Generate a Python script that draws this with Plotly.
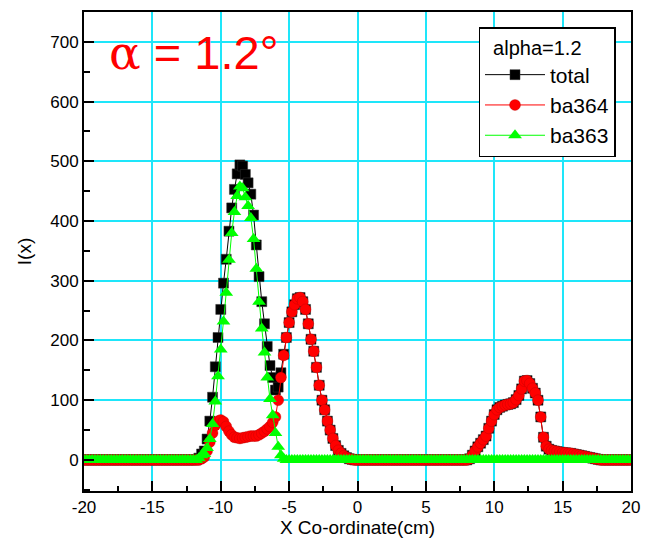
import numpy as np
import plotly.graph_objects as go

# Sampling grid along the detector (cm), 0.2 cm step
X_CM = np.round(np.linspace(-20.0, 20.0, 201), 1)

# Intensity profiles, ten samples per row (row start x noted on the right)
BA363 = [
    0, 0, 0, 0, 0, 0, 0, 0, 0, 0,                       # -20.0
    0, 0, 0, 0, 0, 0, 0, 0, 0, 0,                       # -18.0
    0, 0, 0, 0, 0, 0, 0, 0, 0, 0,                       # -16.0
    0, 0, 0, 0, 0, 0, 0, 0, 0, 0,                       # -14.0
    0, 0, 3, 8, 10, 20, 35, 60, 98, 140,                # -12.0
    185, 232, 280, 335, 380, 415, 442, 458, 455, 440,   # -10.0
    425, 405, 370, 320, 265, 220, 180, 138, 102, 75,    # -8.0
    45, 22, 8, 2, 0, 0, 0, 0, 0, 0,                     # -6.0
    0, 0, 0, 0, 0, 0, 0, 0, 0, 0,                       # -4.0
    0, 0, 0, 0, 0, 0, 0, 0, 0, 0,                       # -2.0
    0, 0, 0, 0, 0, 0, 0, 0, 0, 0,                       # 0.0
    0, 0, 0, 0, 0, 0, 0, 0, 0, 0,                       # 2.0
    0, 0, 0, 0, 0, 0, 0, 0, 0, 0,                       # 4.0
    0, 0, 0, 0, 0, 0, 0, 0, 0, 0,                       # 6.0
    0, 0, 0, 0, 0, 0, 0, 0, 0, 0,                       # 8.0
    0, 0, 0, 0, 0, 0, 0, 0, 0, 0,                       # 10.0
    0, 0, 0, 0, 0, 0, 0, 0, 0, 0,                       # 12.0
    0, 0, 0, 0, 0, 0, 0, 0, 0, 0,                       # 14.0
    0, 0, 0, 0, 0, 0, 0, 0, 0, 0,                       # 16.0
    0, 0, 0, 0, 0, 0, 0, 0, 0, 0,                       # 18.0
    0,                                                  # 20.0
]

BA364 = [
    0, 0, 0, 0, 0, 0, 0, 0, 0, 0,                       # -20.0
    0, 0, 0, 0, 0, 0, 0, 0, 0, 0,                       # -18.0
    0, 0, 0, 0, 0, 0, 0, 0, 0, 0,                       # -16.0
    0, 0, 0, 0, 0, 0, 0, 0, 0, 0,                       # -14.0
    0, 0, 0, 2, 5, 15, 30, 45, 58, 65,                  # -12.0
    67, 64, 56, 48, 42, 38, 37, 36, 37, 38,             # -10.0
    39, 40, 40, 40, 42, 45, 48, 52, 56, 63,             # -8.0
    72, 100, 138, 175, 205, 230, 248, 260, 270, 272,    # -6.0
    265, 252, 228, 202, 182, 155, 125, 100, 84, 65,     # -4.0
    50, 36, 24, 16, 11, 7, 4, 2, 1, 0,                  # -2.0
    0, 0, 0, 0, 0, 0, 0, 0, 0, 0,                       # 0.0
    0, 0, 0, 0, 0, 0, 0, 0, 0, 0,                       # 2.0
    0, 0, 0, 0, 0, 0, 0, 0, 0, 0,                       # 4.0
    0, 0, 0, 0, 0, 0, 0, 0, 0, 0,                       # 6.0
    0, 2, 8, 15, 22, 28, 34, 40, 53, 65,                # 8.0
    76, 84, 88, 90, 92, 93, 94, 96, 101, 108,           # 10.0
    119, 132, 133, 128, 120, 112, 100, 72, 38, 23,      # 12.0
    18, 16, 15, 14, 13, 12, 12, 11, 11, 10,             # 14.0
    9, 8, 7, 6, 5, 4, 3, 2, 1, 0,                       # 16.0
    0, 0, 0, 0, 0, 0, 0, 0, 0, 0,                       # 18.0
    0,                                                  # 20.0
]

TOTAL = [
    0, 0, 0, 0, 0, 0, 0, 0, 0, 0,                       # -20.0
    0, 0, 0, 0, 0, 0, 0, 0, 0, 0,                       # -18.0
    0, 0, 0, 0, 0, 0, 0, 0, 0, 0,                       # -16.0
    0, 0, 0, 0, 0, 0, 0, 0, 0, 0,                       # -14.0
    0, 0, 3, 10, 15, 35, 65, 105, 156, 205,             # -12.0
    252, 296, 336, 383, 422, 453, 479, 494, 492, 478,   # -10.0
    464, 445, 410, 360, 307, 265, 228, 190, 158, 138,   # -8.0
    117, 122, 146, 177, 205, 230, 248, 260, 270, 272,   # -6.0
    265, 252, 228, 202, 182, 155, 125, 100, 84, 65,     # -4.0
    50, 36, 24, 16, 11, 7, 4, 2, 1, 0,                  # -2.0
    0, 0, 0, 0, 0, 0, 0, 0, 0, 0,                       # 0.0
    0, 0, 0, 0, 0, 0, 0, 0, 0, 0,                       # 2.0
    0, 0, 0, 0, 0, 0, 0, 0, 0, 0,                       # 4.0
    0, 0, 0, 0, 0, 0, 0, 0, 0, 0,                       # 6.0
    0, 2, 8, 15, 22, 28, 34, 40, 53, 65,                # 8.0
    76, 84, 88, 90, 92, 93, 94, 96, 101, 108,           # 10.0
    119, 132, 133, 128, 120, 112, 100, 72, 38, 23,      # 12.0
    18, 16, 15, 14, 13, 12, 12, 11, 11, 10,             # 14.0
    9, 8, 7, 6, 5, 4, 3, 2, 1, 0,                       # 16.0
    0, 0, 0, 0, 0, 0, 0, 0, 0, 0,                       # 18.0
    0,                                                  # 20.0
]

X_TICKS = [-20, -15, -10, -5, 0, 5, 10, 15, 20]
X_TICK_TEXT = ["-20", "-15", "-10", "-5", "0", "5", "10", "15", "20"]
Y_TICKS = [0, 100, 200, 300, 400, 500, 600, 700]
Y_TICK_TEXT = ["0", "100", "200", "300", "400", "500", "600", "700"]

FONT = "Arial, Liberation Sans, sans-serif"
GRID = "#1ee6fa"

fig = go.Figure()
fig.add_trace(go.Scatter(
    x=X_CM, y=TOTAL, name="total", mode="lines+markers",
    line=dict(color="black", width=1),
    marker=dict(symbol="square", size=10, color="black",
                line=dict(color="#333333", width=0.5)),
))
fig.add_trace(go.Scatter(
    x=X_CM, y=BA364, name="ba364", mode="lines+markers",
    line=dict(color="red", width=1),
    marker=dict(symbol="circle", size=11, color="red",
                line=dict(color="#aa0000", width=0.3)),
))
fig.add_trace(go.Scatter(
    x=X_CM, y=BA363, name="ba363", mode="lines+markers",
    line=dict(color="#00ff00", width=1),
    marker=dict(symbol="triangle-up", size=12, color="#00ff00",
                line=dict(width=0)),
))

axis_common = dict(
    showline=True, linecolor="black", linewidth=2, mirror=True,
    ticks="inside", ticklen=10, tickwidth=1.5, tickcolor="black",
    showgrid=True, gridcolor=GRID, gridwidth=1.5, zeroline=False,
    tickfont=dict(family=FONT, size=17, color="black"),
)

fig.update_xaxes(
    range=[-20, 20], tickvals=X_TICKS, ticktext=X_TICK_TEXT,
    minor=dict(dtick=2.5, tick0=0, ticks="inside", ticklen=5,
               tickwidth=1.5, tickcolor="black", showgrid=False),
    title=dict(text="X Co-ordinate(cm)", font=dict(family=FONT, size=19, color="black"),
               standoff=4),
    **axis_common,
)
fig.update_yaxes(
    range=[-52, 750], tickvals=Y_TICKS, ticktext=Y_TICK_TEXT,
    minor=dict(dtick=50, tick0=0, ticks="inside", ticklen=6,
               tickwidth=1.5, tickcolor="black", showgrid=False),
    title=dict(text="I(x)", font=dict(family=FONT, size=19, color="black"),
               standoff=14),
    **axis_common,
)

fig.add_annotation(
    xref="paper", yref="paper", x=(107 - 84) / 556, y=(491 - 53) / 479,
    xanchor="left", yanchor="middle", showarrow=False,
    text="<span style='font-family:DejaVu Serif'>α</span> = 1.2°",
    font=dict(family=FONT, size=47, color="red"),
)

fig.update_layout(
    width=648, height=547,
    margin=dict(l=84, r=8, t=12, b=56),
    paper_bgcolor="white", plot_bgcolor="white",
    showlegend=True,
    legend=dict(
        x=(485 - 84) / 556, y=(491 - 27) / 479, xanchor="left", yanchor="top",
        bgcolor="white", bordercolor="black", borderwidth=1.5,
        font=dict(family=FONT, size=21, color="black"),
        title=dict(text="  alpha=1.2", font=dict(family=FONT, size=20, color="black")),
        tracegroupgap=0, itemwidth=60,
    ),
)

fig.write_html("out.html")
